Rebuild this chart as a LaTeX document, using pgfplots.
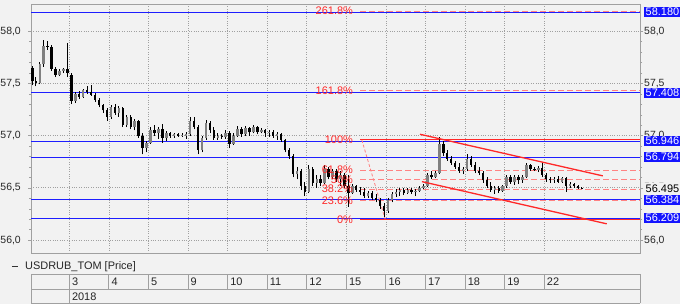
\documentclass[border=0pt]{standalone}
\usepackage{fontspec}
\setmainfont{Liberation Sans}
\usepackage{pgfplots}
\pgfplotsset{compat=1.18}
\usepackage{pgfplotstable}

\definecolor{bg}{RGB}{242,242,242}
\definecolor{lvlblue}{RGB}{30,30,255}
\definecolor{boxblue}{RGB}{20,20,255}
\definecolor{fibred}{RGB}{255,40,40}
\definecolor{fibdash}{RGB}{255,130,130}
\definecolor{gridc}{RGB}{160,160,160}
\definecolor{upc}{RGB}{128,128,128}

\pgfplotstableread{
x o h l c
-0.93 57.65 57.67 57.48 57.52
-0.85 57.52 57.56 57.47 57.50
-0.75 57.50 57.70 57.49 57.68
-0.65 57.68 57.91 57.66 57.86
-0.55 57.86 57.90 57.82 57.85
-0.45 57.85 57.87 57.62 57.64
-0.35 57.64 57.66 57.56 57.58
-0.25 57.58 57.64 57.57 57.62
-0.15 57.62 57.65 57.60 57.64
-0.05 57.64 57.89 57.56 57.60
0.05 57.58 57.60 57.30 57.33
0.15 57.33 57.42 57.31 57.40
0.25 57.40 57.43 57.35 57.37
0.35 57.37 57.45 57.36 57.44
0.45 57.44 57.47 57.40 57.42
0.55 57.42 57.48 57.38 57.39
0.65 57.39 57.41 57.32 57.34
0.75 57.34 57.36 57.27 57.29
0.85 57.29 57.30 57.22 57.24
0.95 57.24 57.26 57.14 57.18
1.05 57.18 57.29 57.16 57.27
1.15 57.27 57.30 57.20 57.22
1.25 57.22 57.28 57.18 57.26
1.35 57.26 57.27 57.08 57.10
1.45 57.10 57.20 57.08 57.18
1.55 57.18 57.20 57.06 57.08
1.65 57.08 57.16 57.05 57.14
1.75 57.14 57.15 56.98 57.00
1.85 57.00 57.02 56.82 56.88
1.95 56.88 56.95 56.84 56.93
2.05 56.93 57.08 56.92 57.05
2.15 57.05 57.10 57.00 57.02
2.25 57.02 57.08 56.97 57.06
2.35 57.06 57.11 56.93 56.98
2.45 56.98 57.04 56.95 57.02
2.55 57.02 57.03 56.98 57.00
2.65 57.00 57.02 56.98 57.01
2.75 57.01 57.02 56.99 57.00
2.85 57.00 57.02 56.99 57.005
2.95 57.00 57.03 56.97 57.01
3.05 57.01 57.18 57.00 57.14
3.15 57.14 57.18 57.06 57.08
3.25 57.08 57.10 56.82 56.86
3.35 56.86 57.00 56.84 56.98
3.45 56.98 57.15 56.96 57.12
3.55 57.12 57.14 57.02 57.05
3.65 57.05 57.08 56.96 56.98
3.75 56.98 57.02 56.96 57.00
3.85 57.00 57.01 56.97 56.99
3.95 56.99 57.05 56.97 57.02
4.05 57.02 57.04 56.88 56.92
4.15 56.92 57.02 56.91 57.00
4.25 57.00 57.09 56.99 57.06
4.35 57.06 57.08 56.99 57.01
4.45 57.01 57.09 57.00 57.07
4.55 57.07 57.08 57.00 57.03
4.65 57.03 57.10 57.02 57.08
4.75 57.08 57.09 57.01 57.03
4.85 57.03 57.07 57.02 57.05
4.95 57.05 57.06 56.99 57.02
5.05 57.02 57.05 56.99 57.03
5.15 57.03 57.05 56.98 57.00
5.25 57.00 57.03 56.96 57.01
5.35 57.01 57.02 56.94 56.96
5.45 56.96 56.97 56.84 56.86
5.55 56.86 56.88 56.78 56.80
5.65 56.80 56.82 56.60 56.63
5.75 56.63 56.70 56.58 56.66
5.85 56.66 56.68 56.48 56.52
5.95 56.52 56.56 56.42 56.46
6.05 56.46 56.72 56.45 56.68
6.15 56.68 56.70 56.52 56.55
6.25 56.55 56.62 56.50 56.58
6.35 56.58 56.62 56.52 56.55
6.45 56.55 56.72 56.54 56.68
6.55 56.68 56.70 56.58 56.60
6.65 56.60 56.68 56.58 56.66
6.75 56.66 56.68 56.56 56.58
6.85 56.58 56.66 56.52 56.62
6.95 56.62 56.64 56.50 56.52
7.05 56.52 56.62 56.32 56.45
7.15 56.45 56.54 56.44 56.52
7.25 56.52 56.53 56.46 56.48
7.35 56.48 56.51 56.43 56.46
7.45 56.46 56.50 56.40 56.42
7.55 56.42 56.47 56.40 56.45
7.65 56.45 56.47 56.38 56.40
7.75 56.40 56.44 56.36 56.38
7.85 56.38 56.40 56.30 56.33
7.95 56.33 56.35 56.22 56.28
8.05 56.28 56.40 56.26 56.38
8.15 56.38 56.46 56.36 56.44
8.25 56.44 56.49 56.41 56.46
8.35 56.46 56.50 56.42 56.48
8.45 56.48 56.50 56.43 56.45
8.55 56.45 56.50 56.44 56.48
8.65 56.48 56.50 56.44 56.46
8.75 56.46 56.49 56.42 56.47
8.85 56.47 56.52 56.46 56.50
8.95 56.50 56.54 56.49 56.52
9.05 56.52 56.64 56.51 56.62
9.15 56.62 56.66 56.58 56.60
9.25 56.60 56.66 56.59 56.64
9.35 56.64 56.99 56.63 56.92
9.45 56.92 56.95 56.80 56.83
9.55 56.83 56.86 56.76 56.78
9.65 56.78 56.80 56.72 56.74
9.75 56.74 56.76 56.68 56.70
9.85 56.70 56.74 56.64 56.66
9.95 56.66 56.70 56.63 56.68
10.05 56.68 56.82 56.66 56.78
10.15 56.78 56.80 56.70 56.72
10.25 56.72 56.75 56.64 56.66
10.35 56.66 56.70 56.62 56.64
10.45 56.64 56.66 56.55 56.57
10.55 56.57 56.60 56.50 56.52
10.65 56.52 56.56 56.46 56.48
10.75 56.48 56.52 56.44 56.50
10.85 56.50 56.52 56.45 56.47
10.95 56.47 56.53 56.46 56.52
11.05 56.52 56.62 56.50 56.60
11.15 56.60 56.62 56.54 56.56
11.25 56.56 56.62 56.53 56.60
11.35 56.60 56.62 56.54 56.57
11.45 56.57 56.62 56.55 56.60
11.55 56.60 56.74 56.59 56.72
11.65 56.72 56.73 56.66 56.68
11.75 56.68 56.70 56.66 56.67
11.85 56.67 56.71 56.65 56.69
11.95 56.69 56.75 56.60 56.62
12.05 56.62 56.64 56.56 56.58
12.15 56.58 56.60 56.55 56.57
12.25 56.57 56.60 56.55 56.58
12.35 56.58 56.61 56.55 56.56
12.45 56.56 56.60 56.55 56.59
12.55 56.59 56.60 56.46 56.52
12.65 56.52 56.56 56.50 56.54
12.75 56.54 56.55 56.50 56.52
12.85 56.52 56.53 56.49 56.50
12.95 56.50 56.51 56.49 56.495
}\candles

\begin{document}
\begin{tikzpicture}[font=\fontsize{11}{13}\selectfont]
\useasboundingbox (-31bp,-51bp) rectangle (649bp,253bp);
\fill[bg] (-31bp,-51bp) rectangle (649bp,253bp);

% right-hand tick labels
\begin{axis}[at={(0,0)}, anchor=south west, scale only axis,
  width=609bp, height=248bp,
  xmin=-0.97, xmax=14.42, ymin=55.876, ymax=58.249,
  axis line style={draw=none}, xtick=\empty,
  ytick={56,56.5,57,57.5,58}, yticklabel pos=right,
  major tick length=0pt,
  yticklabel style={/pgf/number format/fixed, /pgf/number format/fixed zerofill,
    /pgf/number format/precision=1, /pgf/number format/use comma,
    /pgf/number format/assume math mode=true, font=\fontsize{10.5}{12}\selectfont,
    anchor=west, inner xsep=0pt, xshift=4bp, text=black!85}]
\addplot[draw=none] coordinates {(0,57)};
\end{axis}

\begin{axis}[at={(0,0)}, anchor=south west, scale only axis,
  width=609bp, height=248bp,
  xmin=-0.97, xmax=14.42, ymin=55.876, ymax=58.249, clip=false,
  axis line style={gridc, line width=1bp},
  xtick={0,...,12}, xticklabels={}, xmajorgrids, x tick style={draw=none},
  ytick={56,56.5,57,57.5,58}, ymajorgrids, minor y tick num=4,
  ytick pos=both, yticklabel pos=left, tick align=outside,
  major tick length=3bp, minor tick length=2bp, y tick style={gridc},
  grid style={gridc, dotted, line width=0.7bp},
  yticklabel style={/pgf/number format/fixed, /pgf/number format/fixed zerofill,
    /pgf/number format/precision=1, /pgf/number format/use comma,
    /pgf/number format/assume math mode=true, font=\fontsize{10.5}{12}\selectfont,
    anchor=east, inner xsep=0pt, xshift=-7bp, text=black!85}]

% blue level lines
\addplot[lvlblue, line width=1.1bp] coordinates {(-0.97,58.18) (14.42,58.18)};
\addplot[lvlblue, line width=1.1bp] coordinates {(-0.97,57.408) (14.42,57.408)};
\addplot[lvlblue, line width=1.1bp] coordinates {(-0.97,56.946) (14.42,56.946)};
\addplot[lvlblue, line width=1.1bp] coordinates {(-0.97,56.794) (14.42,56.794)};
\addplot[lvlblue, line width=1.1bp] coordinates {(-0.97,56.384) (14.42,56.384)};
\addplot[lvlblue, line width=1.1bp] coordinates {(-0.97,56.209) (14.42,56.209)};

% fibonacci levels
\addplot[fibdash, line width=1bp, dash pattern=on 6bp off 3bp] coordinates {(7.345,58.19) (14.42,58.19)};
\addplot[fibdash, line width=1bp, dash pattern=on 6bp off 3bp] coordinates {(7.345,57.43) (14.42,57.43)};
\addplot[fibdash, line width=1bp, dash pattern=on 6bp off 3bp] coordinates {(7.345,56.67) (14.42,56.67)};
\addplot[fibdash, line width=1bp, dash pattern=on 6bp off 3bp] coordinates {(7.345,56.576) (14.42,56.576)};
\addplot[fibdash, line width=1bp, dash pattern=on 6bp off 3bp] coordinates {(7.345,56.487) (14.42,56.487)};
\addplot[fibdash, line width=1bp, dash pattern=on 6bp off 3bp] coordinates {(7.345,56.377) (14.42,56.377)};
\addplot[fibred, line width=1.1bp] coordinates {(7.345,56.96) (14.42,56.96)};
\addplot[fibred, line width=1.1bp] coordinates {(7.345,56.196) (14.42,56.196)};
\addplot[fibdash, line width=0.8bp, dash pattern=on 3bp off 2bp] coordinates {(7.39,56.958) (7.98,56.20)};

% candles: wicks
\addplot[draw=none, mark=none, error bars/.cd, y dir=plus, y explicit, error mark=none,
  error bar style={draw=black, line width=0.7bp, line cap=butt}]
  table[x=x, y=l, y error plus expr=\thisrow{h}-\thisrow{l}] {\candles};
% up bodies
\addplot[draw=none, mark=none, error bars/.cd, y dir=plus, y explicit, error mark=none,
  error bar style={draw=upc, line width=2.4bp, line cap=butt}]
  table[x=x, y=o, y error plus expr={\thisrow{c}>=\thisrow{o} ? max(\thisrow{c}-\thisrow{o},0.006) : 0}] {\candles};
% down bodies
\addplot[draw=none, mark=none, error bars/.cd, y dir=plus, y explicit, error mark=none,
  error bar style={draw=black, line width=2.4bp, line cap=butt}]
  table[x=x, y=c, y error plus expr={\thisrow{c}<\thisrow{o} ? \thisrow{o}-\thisrow{c} : 0}] {\candles};

% channel
\addplot[fibred, line width=1.3bp] coordinates {(8.86,57.012) (13.48,56.614)};
\addplot[fibred, line width=1.3bp] coordinates {(8.91,56.559) (13.58,56.155)};

% fib labels
\node[fibred, anchor=east, inner sep=0pt] at (axis cs:7.17,58.19) {261.8\%};
\node[fibred, anchor=east, inner sep=0pt] at (axis cs:7.17,57.43) {161.8\%};
\node[fibred, anchor=east, inner sep=0pt] at (axis cs:7.17,56.958) {100\%};
\node[fibred, anchor=east, inner sep=0pt] at (axis cs:7.17,56.67) {61.8\%};
\node[fibred, anchor=east, inner sep=0pt] at (axis cs:7.17,56.576) {50\%};
\node[fibred, anchor=east, inner sep=0pt] at (axis cs:7.17,56.487) {38.2\%};
\node[fibred, anchor=east, inner sep=0pt] at (axis cs:7.17,56.377) {23.6\%};
\node[fibred, anchor=east, inner sep=0pt] at (axis cs:7.17,56.196) {0\%};

% right boxes
\node[fill=boxblue, text=white, anchor=west, inner xsep=1.5bp, inner ysep=0pt, minimum height=10.5bp, xshift=4bp] at (axis cs:14.42,58.18) {58.180};
\node[fill=boxblue, text=white, anchor=west, inner xsep=1.5bp, inner ysep=0pt, minimum height=10.5bp, xshift=4bp] at (axis cs:14.42,57.408) {57.408};
\node[fill=boxblue, text=white, anchor=west, inner xsep=1.5bp, inner ysep=0pt, minimum height=10.5bp, xshift=4bp] at (axis cs:14.42,56.946) {56.946};
\node[fill=boxblue, text=white, anchor=west, inner xsep=1.5bp, inner ysep=0pt, minimum height=10.5bp, xshift=4bp] at (axis cs:14.42,56.794) {56.794};
\node[fill=boxblue, text=white, anchor=west, inner xsep=1.5bp, inner ysep=0pt, minimum height=10.5bp, xshift=4bp] at (axis cs:14.42,56.384) {56.384};
\node[fill=boxblue, text=white, anchor=west, inner xsep=1.5bp, inner ysep=0pt, minimum height=10.5bp, xshift=4bp] at (axis cs:14.42,56.209) {56.209};
\node[fill=bg, text=black, anchor=west, inner xsep=1.5bp, inner ysep=0pt, minimum height=10.5bp, xshift=4bp] at (axis cs:14.42,56.495) {56.495};
\end{axis}

% legend
\draw[black!80, line width=0.8bp] (-19bp,-13.7bp) -- (-13bp,-13.7bp);
\node[anchor=west, inner sep=0pt, text=black!85] at (-6bp,-13.7bp) {USDRUB\_TOM [Price]};

% date table
\draw[gridc, line width=1bp] (0,-21.3bp) -- (609bp,-21.3bp);
\draw[gridc, line width=1bp] (0,-36.3bp) -- (609bp,-36.3bp);
\draw[gridc, line width=1bp] (0,-50.3bp) -- (609bp,-50.3bp);
\draw[gridc, line width=1bp] (0,-21.3bp) -- (0,-50.3bp);
\draw[gridc, line width=1bp] (609bp,-21.3bp) -- (609bp,-50.3bp);
\draw[gridc, line width=1bp] (38.3bp,-21.3bp) -- (38.3bp,-50.3bp);
\foreach \i in {1,...,12} {
  \draw[gridc, line width=1bp] ({38.3bp+39.58bp*\i},-21.3bp) -- ({38.3bp+39.58bp*\i},-36.3bp);
}
\foreach \i/\lab in {0/3,1/4,2/5,3/9,4/10,5/11,6/12,7/15,8/16,9/17,10/18,11/19,12/22} {
  \node[anchor=west, inner sep=0pt, text=black!85] at ({38.3bp+39.58bp*\i+2.5bp},-28.8bp) {\lab};
}
\node[anchor=west, inner sep=0pt, text=black!85] at (40.8bp,-43.3bp) {2018};
\end{tikzpicture}
\end{document}
